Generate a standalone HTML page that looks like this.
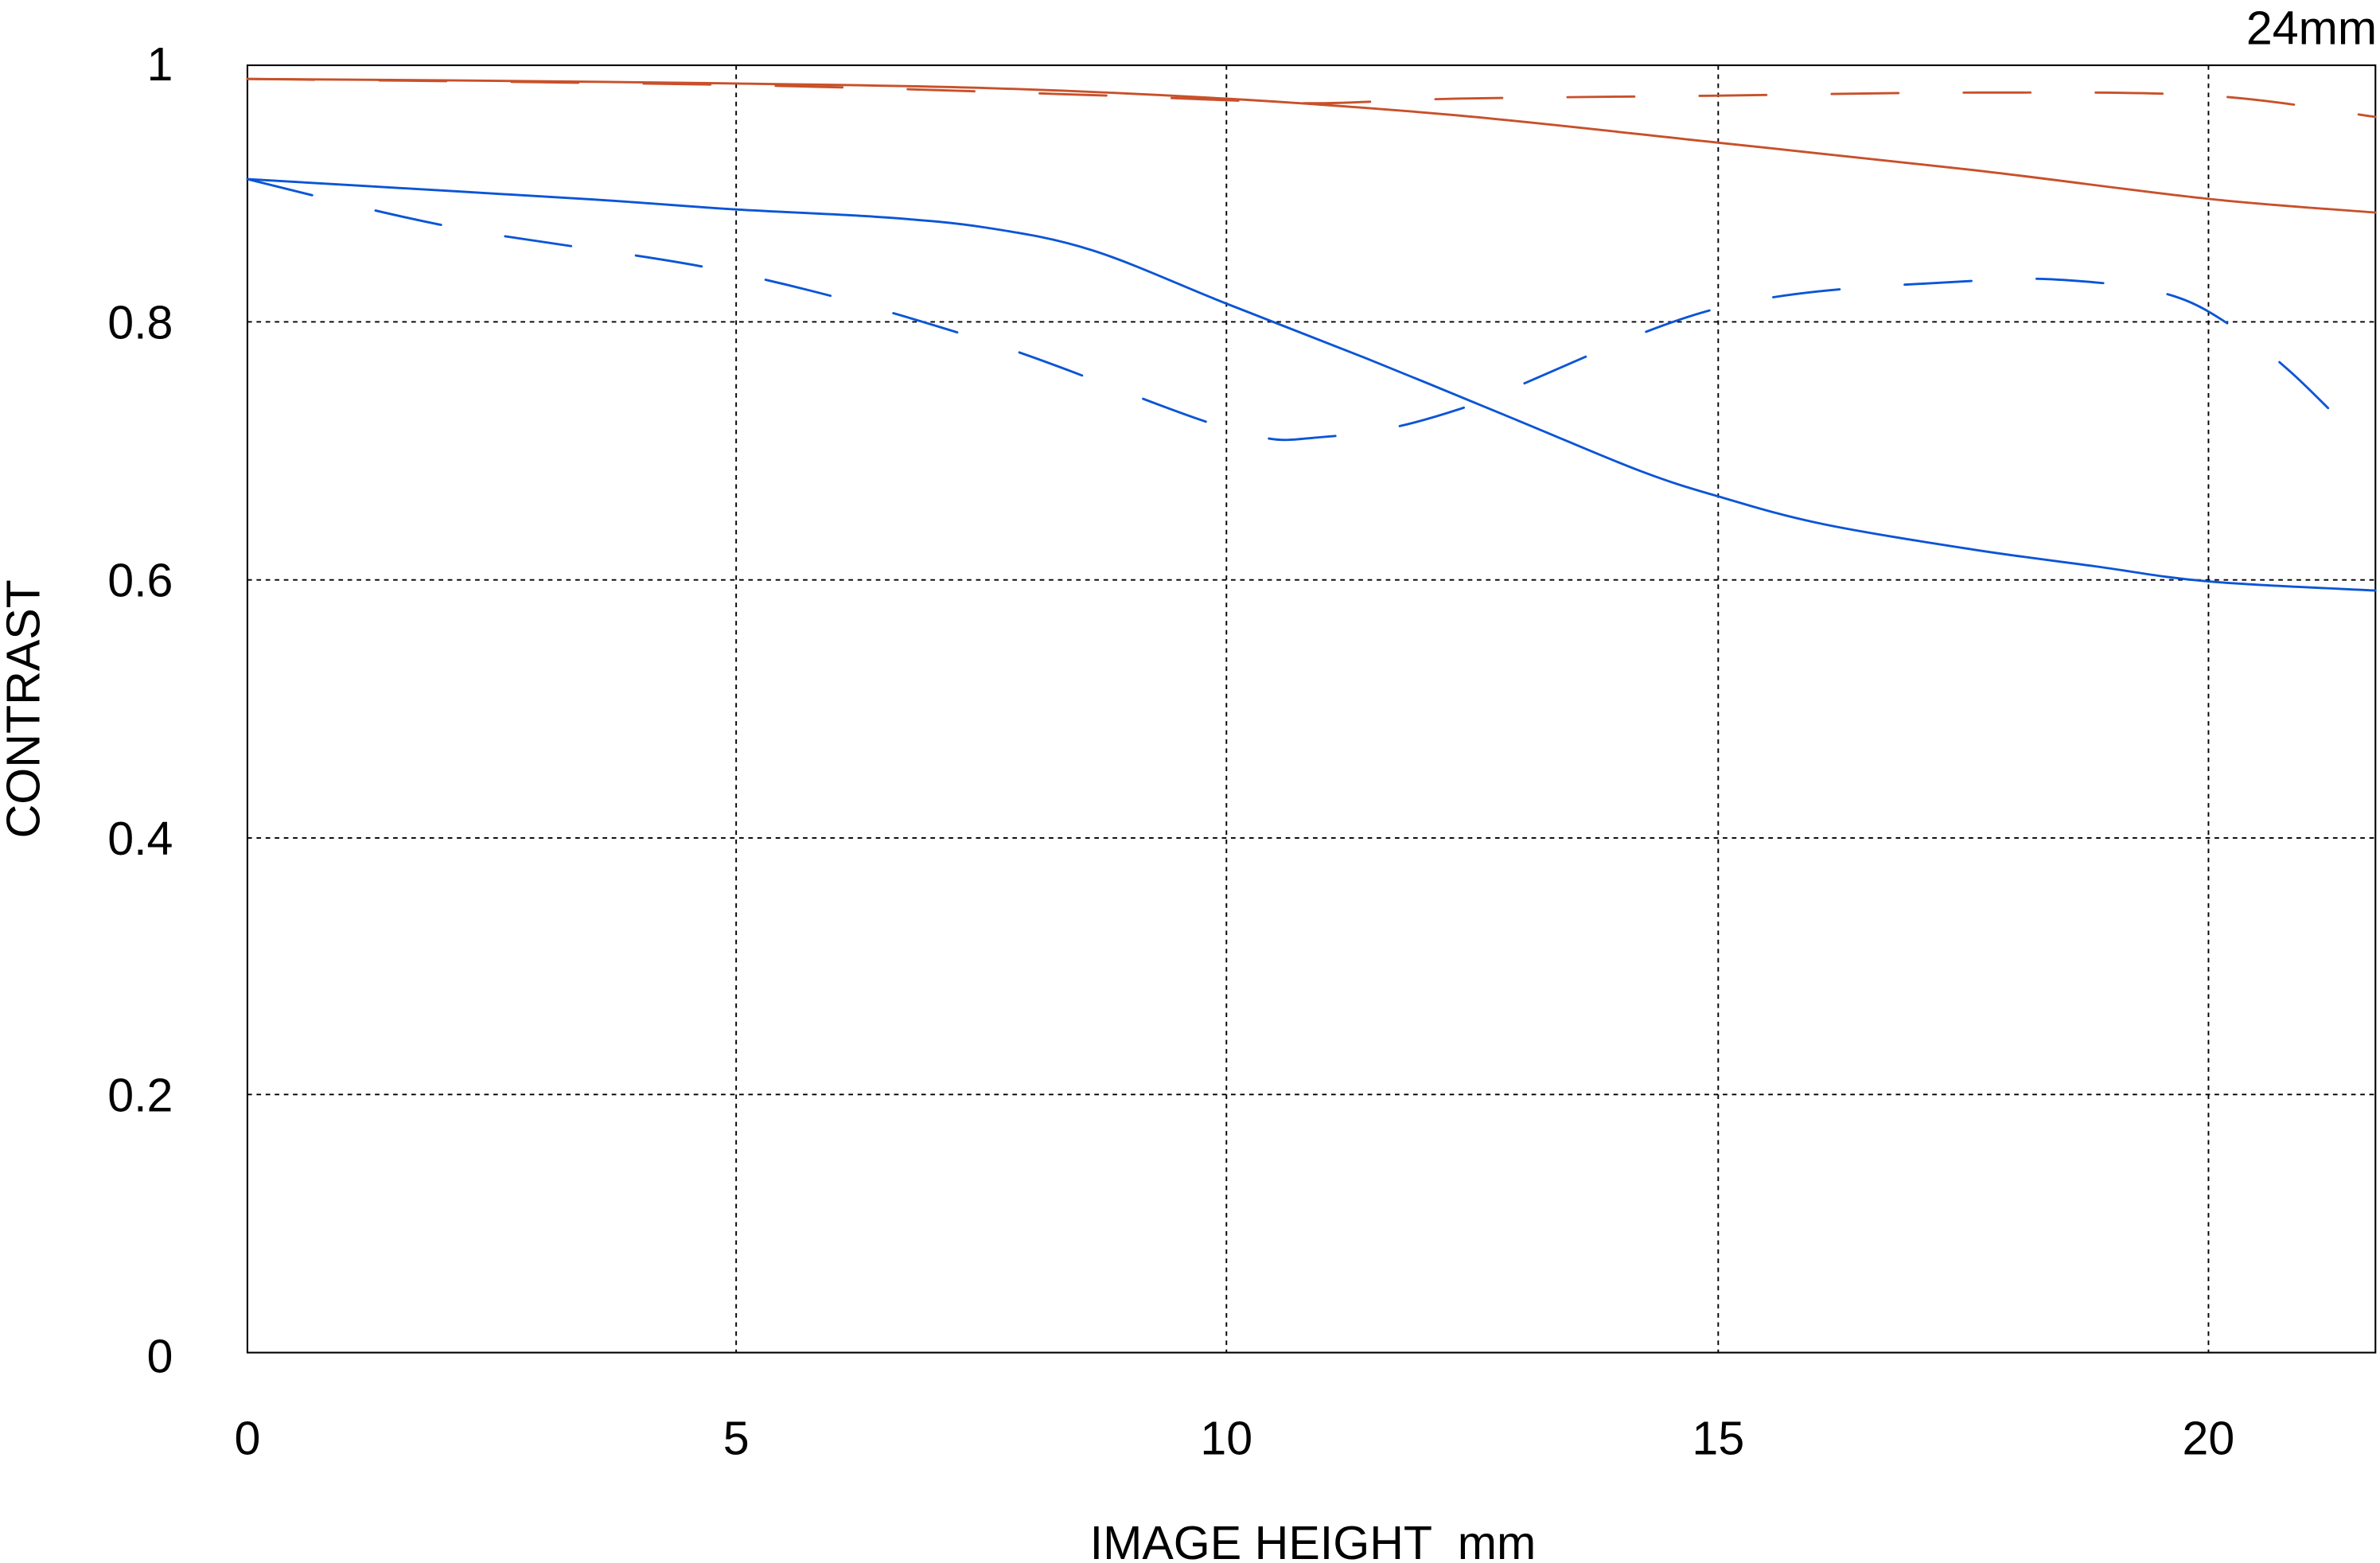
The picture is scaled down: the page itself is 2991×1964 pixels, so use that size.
<!DOCTYPE html>
<html><head><meta charset="utf-8"><style>
html,body{margin:0;padding:0;background:#fff;}
svg{display:block;}
text{font-family:"Liberation Sans",sans-serif;fill:#000;}
</style></head><body>
<svg id="s" width="2991" height="1964" viewBox="0 0 1568 1029.6" preserveAspectRatio="none" xmlns="http://www.w3.org/2000/svg">
<g stroke="#000" stroke-width="1" stroke-dasharray="3 3" fill="none">
<line x1="485" y1="43" x2="485" y2="891"/>
<line x1="808" y1="43" x2="808" y2="891"/>
<line x1="1132" y1="43" x2="1132" y2="891"/>
<line x1="1455" y1="43" x2="1455" y2="891"/>
<line x1="163" y1="212" x2="1565" y2="212"/>
<line x1="163" y1="382" x2="1565" y2="382"/>
<line x1="163" y1="552" x2="1565" y2="552"/>
<line x1="163" y1="721" x2="1565" y2="721"/>
</g>
<rect x="163" y="43" width="1402" height="848" fill="none" stroke="#000" stroke-width="1.1"/>
<g id="curves" fill="none" stroke-width="1.5" stroke-linecap="round"></g>
<g font-size="31" text-anchor="end">
<text x="114" y="53">1</text>
<text x="114" y="223">0.8</text>
<text x="114" y="393">0.6</text>
<text x="114" y="563">0.4</text>
<text x="114" y="732">0.2</text>
<text x="114" y="904">0</text>
</g>
<g font-size="31" text-anchor="middle">
<text x="163" y="958">0</text>
<text x="485" y="958">5</text>
<text x="808" y="958">10</text>
<text x="1132" y="958">15</text>
<text x="1455" y="958">20</text>
<text x="865" y="1027" xml:space="preserve">IMAGE HEIGHT  mm</text>
<text transform="translate(26,467) rotate(-90)">CONTRAST</text>
</g>
<text x="1566" y="29" font-size="31" text-anchor="end">24mm</text>
</svg>
<script>
function cr(p){var d="M"+p[0][0]+","+p[0][1];for(var i=0;i<p.length-1;i++){var p0=p[i-1]||p[i],p1=p[i],p2=p[i+1],p3=p[i+2]||p2;
var c1x=p1[0]+(p2[0]-p0[0])/6,c1y=p1[1]+(p2[1]-p0[1])/6,c2x=p2[0]-(p3[0]-p1[0])/6,c2y=p2[1]-(p3[1]-p1[1])/6;
d+=" C"+c1x+","+c1y+" "+c2x+","+c2y+" "+p2[0]+","+p2[1];}return d;}
var S=[
{c:"#c8502a",d:null,p:[[163,52],[300,53],[485,55],[650,58],[808,65],[960,76],[1132,94],[1300,112],[1455,131],[1565,140]]},
{c:"#c8502a",d:"44 43",p:[[163,52],[485,56],[700,62],[808,66],[870,68],[960,65],[1132,63],[1300,61],[1455,63],[1565,77]]},
{c:"#0a55d6",d:null,p:[[163,118],[300,126],[400,132],[485,138],[580,143],[650,150],[720,165],[808,200],[900,236],[1000,277],[1080,310],[1132,327],[1200,345],[1300,362],[1380,373],[1455,383],[1565,389]]},
{c:"#0a55d6",d:"44 43",p:[[163,118],[300,150],[485,180],[650,225],[808,282],[870,288],[960,270],[1132,203],[1300,185],[1380,186],[1435,196],[1475,218],[1508,244],[1540,275]]}
];
var g=document.getElementById("curves"),ns="http://www.w3.org/2000/svg";
S.forEach(function(s){var e=document.createElementNS(ns,"path");e.setAttribute("d",cr(s.p));e.setAttribute("stroke",s.c);if(s.d)e.setAttribute("stroke-dasharray",s.d);g.appendChild(e);});
</script>
</body></html>
